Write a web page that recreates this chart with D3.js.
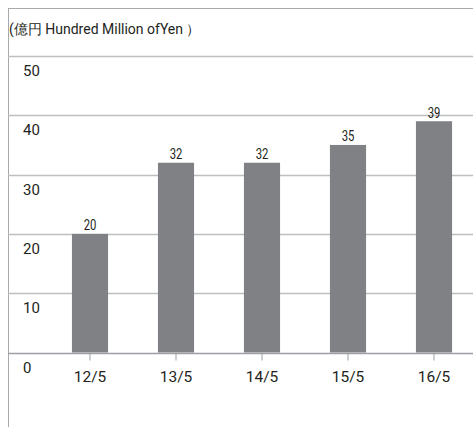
<!DOCTYPE html>
<html>
<head>
<meta charset="utf-8">
<script src="https://cdn.jsdelivr.net/npm/d3@7"></script>
<style>
  body { margin: 0; background: #fff; }
  text { font-family: Roboto, "Noto Sans", sans-serif; fill: #231f20; }
</style>
</head>
<body>
<div class="chart"></div>
<script>
var categories = ["12/5", "13/5", "14/5", "15/5", "16/5"];
var values = [20, 32, 32, 35, 39];
var yTicks = [0, 10, 20, 30, 40, 50];
var unitLabel = "(億円 Hundred Million ofYen ）";

var svgWidth = 473;
var svgHeight = 427;

var frame = { left: 8, top: 8 };

var svg = d3.select(".chart")
  .append("svg")
  .attr("width", svgWidth)
  .attr("height", svgHeight);

// scales
var xScale = d3.scaleBand()
  .domain(categories)
  .range([47, 477])
  .paddingInner(0.58)
  .paddingOuter(0.29);

var yScale = d3.scaleLinear()
  .domain([0, 50])
  .range([352.5, 56]);

// frame: top and left rules
svg.append("line")
  .attr("x1", frame.left).attr("x2", svgWidth)
  .attr("y1", frame.top + 0.5).attr("y2", frame.top + 0.5)
  .attr("stroke", "#a7a9ac").attr("stroke-width", 1);

svg.append("line")
  .attr("x1", frame.left + 0.5).attr("x2", frame.left + 0.5)
  .attr("y1", frame.top).attr("y2", svgHeight)
  .attr("stroke", "#a7a9ac").attr("stroke-width", 1);

// unit label
svg.append("text")
  .attr("x", 9)
  .attr("y", 34)
  .style("font-size", "14px")
  .text(unitLabel);

// gridlines
svg.append("g")
  .selectAll("line")
  .data(yTicks)
  .enter()
  .append("line")
  .attr("x1", frame.left)
  .attr("x2", svgWidth)
  .attr("y1", d => Math.round(yScale(d)) + 0.5)
  .attr("y2", d => Math.round(yScale(d)) + 0.5)
  .attr("stroke", d => d === 0 ? "#9d9fa2" : "#bcbec0")
  .attr("stroke-width", 1.3);

// y labels sit under their gridline
svg.append("g")
  .selectAll("text")
  .data(yTicks)
  .enter()
  .append("text")
  .attr("x", 23)
  .attr("y", d => yScale(d) + 20)
  .style("font-size", "15px")
  .text(d => d);

// bars
svg.append("g")
  .selectAll("rect")
  .data(values)
  .enter()
  .append("rect")
  .attr("x", (d, i) => xScale(categories[i]))
  .attr("y", d => yScale(d))
  .attr("width", xScale.bandwidth())
  .attr("height", d => yScale(0) - yScale(d))
  .attr("fill", "#808184");

// value labels, squeezed horizontally to look condensed
svg.append("g")
  .selectAll("text")
  .data(values)
  .enter()
  .append("text")
  .attr("text-anchor", "middle")
  .attr("transform", (d, i) => {
    var cx = xScale(categories[i]) + xScale.bandwidth() / 2;
    return `translate(${cx}, ${yScale(d) - 3.5}) scale(0.78, 1)`;
  })
  .style("font-size", "14.5px")
  .text(d => d);

// bottom axis: ticks and category labels
var bottomAxis = d3.axisBottom(xScale).tickSize(7).tickPadding(10);
var xAxis = svg.append("g")
  .attr("transform", `translate(0, ${Math.round(yScale(0)) + 0.5})`)
  .call(bottomAxis);
xAxis.select(".domain").remove();
xAxis.selectAll(".tick line").attr("stroke", "#9d9fa2");
xAxis.selectAll(".tick text")
  .attr("fill", "#231f20")
  .style("font-family", "Roboto, sans-serif")
  .style("font-size", "15.5px");
</script>
</body>
</html>
